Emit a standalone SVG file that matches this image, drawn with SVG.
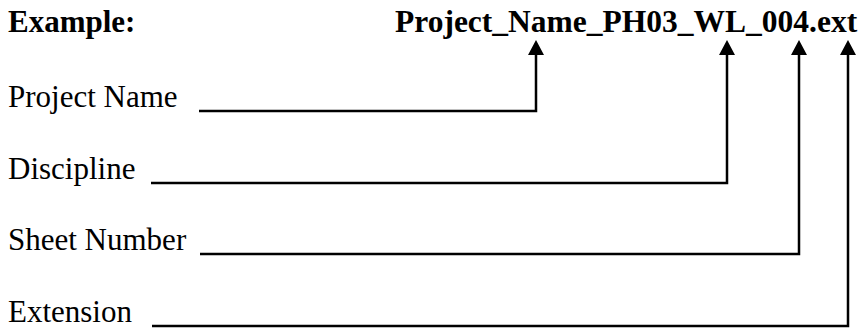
<svg xmlns="http://www.w3.org/2000/svg" width="862" height="330" viewBox="0 0 862 330">
<style>
.t{font-family:"Liberation Serif","Times New Roman",serif;font-size:31px;fill:#000}
.b{font-weight:bold}
.c{fill:none;stroke:#000;stroke-width:2.5;marker-end:url(#ah)}
</style>
<defs>
<marker id="ah" markerUnits="userSpaceOnUse" markerWidth="15" markerHeight="16" viewBox="0 0 15 16" refX="11" refY="8" orient="auto">
<path d="M0,0 L15,8 L0,16 Z" fill="#000"/>
</marker>
</defs>
<rect width="862" height="330" fill="#fff"/>
<g id="header">
<text class="t b" x="8" y="32">Example:</text>
<text class="t b" x="395" y="32" style="font-size:31.5px">Project_Name_PH03_WL_004.ext</text>
</g>
<g id="n-project"><text class="t" x="8" y="107">Project Name</text></g>
<g id="n-discipline"><text class="t" x="8" y="179">Discipline</text></g>
<g id="n-sheet"><text class="t" x="8" y="250">Sheet Number</text></g>
<g id="n-extension"><text class="t" x="8" y="322">Extension</text></g>
<g id="connectors">
<path class="c" d="M199,111 H536 V44"/>
<path class="c" d="M151,183 H727 V44"/>
<path class="c" d="M200,254 H799 V44"/>
<path class="c" d="M152,326 H848 V44"/>
</g>
</svg>
